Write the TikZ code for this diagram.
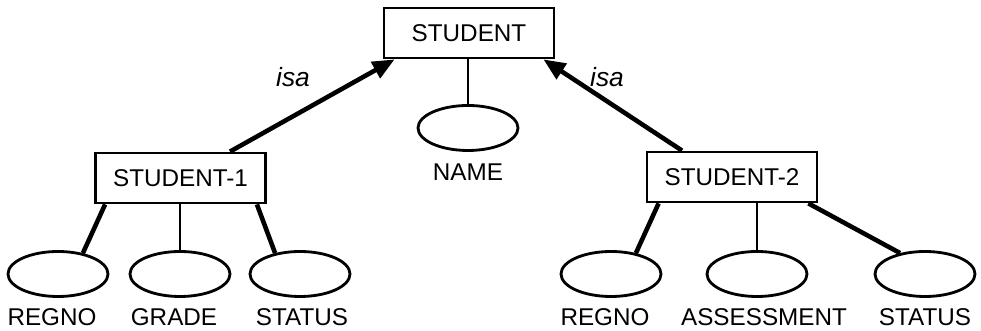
\documentclass[tikz,border=0pt]{standalone}
\usepackage{fontspec}
\setmainfont{Liberation Sans}
\usetikzlibrary{arrows.meta, positioning, shapes.geometric}

\begin{document}
\begin{tikzpicture}[font=\fontsize{13.8}{16}\selectfont,entity/.style={draw,line width=1.6pt,minimum width=3.4cm,minimum height=1.0cm,inner sep=0pt},attr/.style={draw,ellipse,line width=1.6pt,minimum width=2.0cm,minimum height=0.9cm,inner sep=0pt},attrname/.style={inner sep=0pt},stem/.style={line width=1.3pt},leg/.style={line width=2.6pt},isa/.style={-{Triangle[length=4.4mm,width=3.6mm]},line width=2.6pt}]
\useasboundingbox (0,0) rectangle (19.62,6.62);
% entities
\node[entity] (student) at (9.38,5.96){STUDENT};
\node[entity] (s1) at (3.61,3.06){STUDENT-1};
\node[entity] (s2) at (14.64,3.08){STUDENT-2};
% attributes
\node[attr] (name) at (9.36,4.06){};\node[attrname] (namel) at (9.36,3.18){NAME};
\node[attr] (regnoA) at (1.16,1.14){};\node[attrname] (regnoAl) at (1.04,0.28){REGNO};
\node[attr] (gradeA) at (3.6,1.14){};\node[attrname] (gradeAl) at (3.48,0.28){GRADE};
\node[attr] (statusA) at (6.0,1.14){};\node[attrname] (statusAl) at (6.04,0.28){STATUS};
\node[attr] (regnoB) at (12.22,1.14){};\node[attrname] (regnoBl) at (12.1,0.28){REGNO};
\node[attr] (assessB) at (15.14,1.14){};\node[attrname] (assessBl) at (15.28,0.28){ASSESSMENT};
\node[attr] (statusB) at (18.5,1.14){};\node[attrname] (statusBl) at (18.5,0.28){STATUS};
% isa links
\draw[isa] ([xshift=0.99cm]s1.north) -- ([xshift=0.24cm]student.south west);
\draw[isa] ([xshift=-1.0cm]s2.north) -- ([xshift=-0.24cm]student.south east);
\node[font=\fontsize{15}{17}\selectfont\itshape] (isaA) at (5.86,5.08){isa};
\node[font=\fontsize{15}{17}\selectfont\itshape] (isaB) at (12.14,5.08){isa};
% attribute links
\draw[stem] (student.south -| name.north) -- (name.north);
\draw[leg] ([xshift=0.22cm]s1.south west) -- (regnoA.40);\draw[stem] (s1.south -| gradeA.north) -- (gradeA.north);\draw[leg] ([xshift=-0.2cm]s1.south east) -- (statusA.140);
\draw[leg] ([xshift=0.26cm]s2.south west) -- (regnoB.40);\draw[stem] (s2.south -| assessB.north) -- (assessB.north);\draw[leg] ([xshift=-0.2cm]s2.south east) -- (statusB.140);
\end{tikzpicture}
\end{document}
